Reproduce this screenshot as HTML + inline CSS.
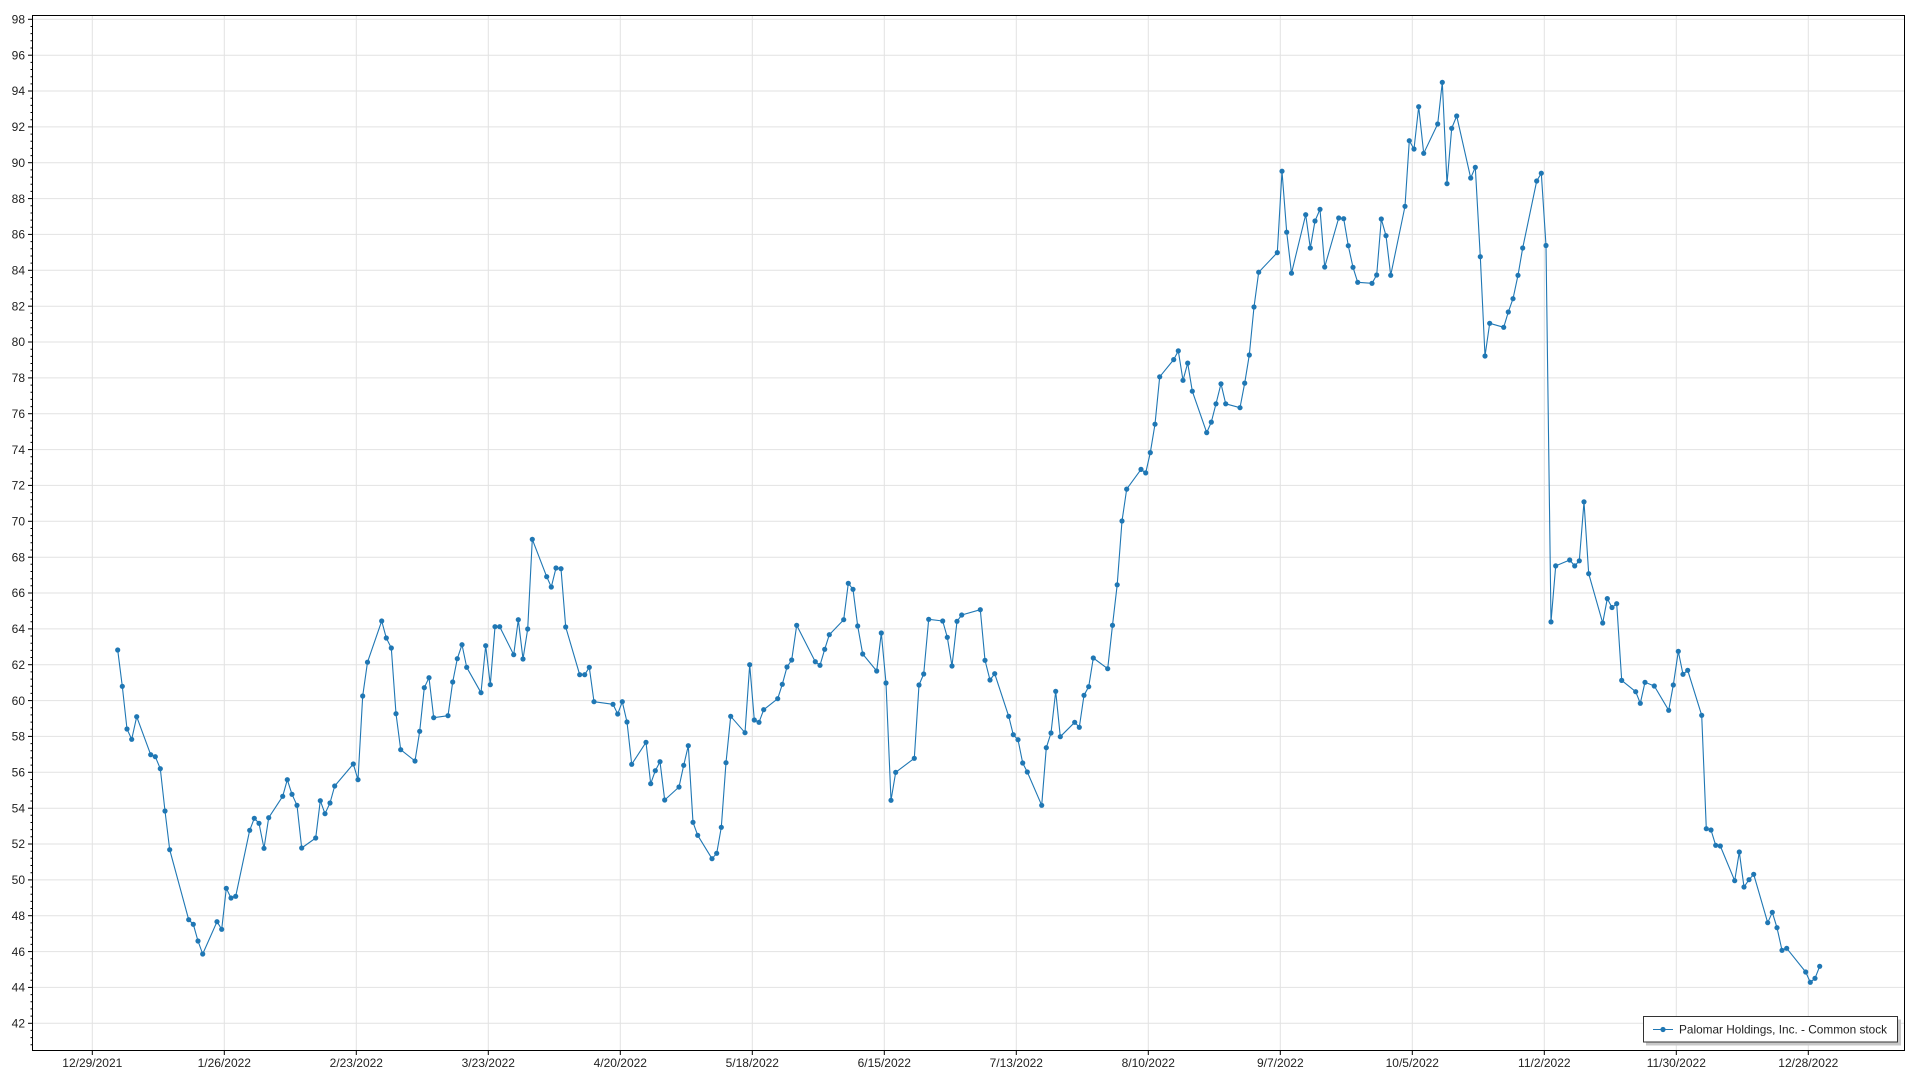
<!DOCTYPE html>
<html>
<head>
<meta charset="utf-8">
<style>
  html,body{margin:0;padding:0;background:#fff;}
  svg{display:block;}
  text{font-family:"Liberation Sans",Arial,sans-serif;font-size:12px;fill:#222;}
</style>
</head>
<body>
<svg width="1920" height="1080" viewBox="0 0 1920 1080" xmlns="http://www.w3.org/2000/svg">
  <defs>
    <marker id="dot" markerWidth="7" markerHeight="7" refX="3.5" refY="3.5" markerUnits="userSpaceOnUse">
      <circle cx="3.5" cy="3.5" r="2.6" fill="#1f77b4"/>
    </marker>
  </defs>
  <rect x="0" y="0" width="1920" height="1080" fill="#fff"/>

  <!-- horizontal gridlines -->
  <g stroke="#e2e2e2" stroke-width="1">
    <line x1="33" x2="1905" y1="19.3" y2="19.3"/>
    <line x1="33" x2="1905" y1="55.2" y2="55.2"/>
    <line x1="33" x2="1905" y1="91.0" y2="91.0"/>
    <line x1="33" x2="1905" y1="126.9" y2="126.9"/>
    <line x1="33" x2="1905" y1="162.7" y2="162.7"/>
    <line x1="33" x2="1905" y1="198.6" y2="198.6"/>
    <line x1="33" x2="1905" y1="234.4" y2="234.4"/>
    <line x1="33" x2="1905" y1="270.3" y2="270.3"/>
    <line x1="33" x2="1905" y1="306.2" y2="306.2"/>
    <line x1="33" x2="1905" y1="342.0" y2="342.0"/>
    <line x1="33" x2="1905" y1="377.9" y2="377.9"/>
    <line x1="33" x2="1905" y1="413.7" y2="413.7"/>
    <line x1="33" x2="1905" y1="449.6" y2="449.6"/>
    <line x1="33" x2="1905" y1="485.4" y2="485.4"/>
    <line x1="33" x2="1905" y1="521.3" y2="521.3"/>
    <line x1="33" x2="1905" y1="557.2" y2="557.2"/>
    <line x1="33" x2="1905" y1="593.0" y2="593.0"/>
    <line x1="33" x2="1905" y1="628.9" y2="628.9"/>
    <line x1="33" x2="1905" y1="664.7" y2="664.7"/>
    <line x1="33" x2="1905" y1="700.6" y2="700.6"/>
    <line x1="33" x2="1905" y1="736.4" y2="736.4"/>
    <line x1="33" x2="1905" y1="772.3" y2="772.3"/>
    <line x1="33" x2="1905" y1="808.2" y2="808.2"/>
    <line x1="33" x2="1905" y1="844.0" y2="844.0"/>
    <line x1="33" x2="1905" y1="879.9" y2="879.9"/>
    <line x1="33" x2="1905" y1="915.7" y2="915.7"/>
    <line x1="33" x2="1905" y1="951.6" y2="951.6"/>
    <line x1="33" x2="1905" y1="987.4" y2="987.4"/>
    <line x1="33" x2="1905" y1="1023.3" y2="1023.3"/>
  </g>
  <!-- vertical gridlines -->
  <g stroke="#e2e2e2" stroke-width="1">
    <line y1="16" y2="1050" x1="92.3" x2="92.3"/>
    <line y1="16" y2="1050" x1="224.3" x2="224.3"/>
    <line y1="16" y2="1050" x1="356.3" x2="356.3"/>
    <line y1="16" y2="1050" x1="488.3" x2="488.3"/>
    <line y1="16" y2="1050" x1="620.3" x2="620.3"/>
    <line y1="16" y2="1050" x1="752.3" x2="752.3"/>
    <line y1="16" y2="1050" x1="884.3" x2="884.3"/>
    <line y1="16" y2="1050" x1="1016.3" x2="1016.3"/>
    <line y1="16" y2="1050" x1="1148.3" x2="1148.3"/>
    <line y1="16" y2="1050" x1="1280.3" x2="1280.3"/>
    <line y1="16" y2="1050" x1="1412.3" x2="1412.3"/>
    <line y1="16" y2="1050" x1="1544.3" x2="1544.3"/>
    <line y1="16" y2="1050" x1="1676.3" x2="1676.3"/>
    <line y1="16" y2="1050" x1="1808.3" x2="1808.3"/>
  </g>

  <!-- plot frame -->
  <rect x="32.5" y="15.5" width="1872" height="1035" fill="none" stroke="#000" stroke-width="1"/>

  <!-- y major ticks -->
  <g stroke="#000" stroke-width="1">
    <line x1="28" x2="32.5" y1="19.3" y2="19.3"/>
    <line x1="28" x2="32.5" y1="55.2" y2="55.2"/>
    <line x1="28" x2="32.5" y1="91.0" y2="91.0"/>
    <line x1="28" x2="32.5" y1="126.9" y2="126.9"/>
    <line x1="28" x2="32.5" y1="162.7" y2="162.7"/>
    <line x1="28" x2="32.5" y1="198.6" y2="198.6"/>
    <line x1="28" x2="32.5" y1="234.4" y2="234.4"/>
    <line x1="28" x2="32.5" y1="270.3" y2="270.3"/>
    <line x1="28" x2="32.5" y1="306.2" y2="306.2"/>
    <line x1="28" x2="32.5" y1="342.0" y2="342.0"/>
    <line x1="28" x2="32.5" y1="377.9" y2="377.9"/>
    <line x1="28" x2="32.5" y1="413.7" y2="413.7"/>
    <line x1="28" x2="32.5" y1="449.6" y2="449.6"/>
    <line x1="28" x2="32.5" y1="485.4" y2="485.4"/>
    <line x1="28" x2="32.5" y1="521.3" y2="521.3"/>
    <line x1="28" x2="32.5" y1="557.2" y2="557.2"/>
    <line x1="28" x2="32.5" y1="593.0" y2="593.0"/>
    <line x1="28" x2="32.5" y1="628.9" y2="628.9"/>
    <line x1="28" x2="32.5" y1="664.7" y2="664.7"/>
    <line x1="28" x2="32.5" y1="700.6" y2="700.6"/>
    <line x1="28" x2="32.5" y1="736.4" y2="736.4"/>
    <line x1="28" x2="32.5" y1="772.3" y2="772.3"/>
    <line x1="28" x2="32.5" y1="808.2" y2="808.2"/>
    <line x1="28" x2="32.5" y1="844.0" y2="844.0"/>
    <line x1="28" x2="32.5" y1="879.9" y2="879.9"/>
    <line x1="28" x2="32.5" y1="915.7" y2="915.7"/>
    <line x1="28" x2="32.5" y1="951.6" y2="951.6"/>
    <line x1="28" x2="32.5" y1="987.4" y2="987.4"/>
    <line x1="28" x2="32.5" y1="1023.3" y2="1023.3"/>
  </g>
  <!-- y minor ticks (every 0.4 units = 7.17px) -->
  <path stroke="#000" stroke-width="1" fill="none" d="
    M30.5 26.5H32.5 M30.5 33.6H32.5 M30.5 40.8H32.5 M30.5 48.0H32.5
    M30.5 62.4H32.5 M30.5 69.5H32.5 M30.5 76.7H32.5 M30.5 83.9H32.5
    M30.5 98.2H32.5 M30.5 105.4H32.5 M30.5 112.5H32.5 M30.5 119.7H32.5
    M30.5 134.1H32.5 M30.5 141.2H32.5 M30.5 148.4H32.5 M30.5 155.6H32.5
    M30.5 169.9H32.5 M30.5 177.1H32.5 M30.5 184.3H32.5 M30.5 191.4H32.5
    M30.5 205.8H32.5 M30.5 213.0H32.5 M30.5 220.1H32.5 M30.5 227.3H32.5
    M30.5 241.6H32.5 M30.5 248.8H32.5 M30.5 256.0H32.5 M30.5 263.1H32.5
    M30.5 277.5H32.5 M30.5 284.7H32.5 M30.5 291.8H32.5 M30.5 299.0H32.5
    M30.5 313.3H32.5 M30.5 320.5H32.5 M30.5 327.7H32.5 M30.5 334.8H32.5
    M30.5 349.2H32.5 M30.5 356.4H32.5 M30.5 363.5H32.5 M30.5 370.7H32.5
    M30.5 385.1H32.5 M30.5 392.2H32.5 M30.5 399.4H32.5 M30.5 406.6H32.5
    M30.5 420.9H32.5 M30.5 428.1H32.5 M30.5 435.2H32.5 M30.5 442.4H32.5
    M30.5 456.8H32.5 M30.5 463.9H32.5 M30.5 471.1H32.5 M30.5 478.3H32.5
    M30.5 492.6H32.5 M30.5 499.8H32.5 M30.5 506.9H32.5 M30.5 514.1H32.5
    M30.5 528.5H32.5 M30.5 535.6H32.5 M30.5 542.8H32.5 M30.5 550.0H32.5
    M30.5 564.3H32.5 M30.5 571.5H32.5 M30.5 578.7H32.5 M30.5 585.8H32.5
    M30.5 600.2H32.5 M30.5 607.4H32.5 M30.5 614.5H32.5 M30.5 621.7H32.5
    M30.5 636.0H32.5 M30.5 643.2H32.5 M30.5 650.4H32.5 M30.5 657.5H32.5
    M30.5 671.9H32.5 M30.5 679.1H32.5 M30.5 686.2H32.5 M30.5 693.4H32.5
    M30.5 707.8H32.5 M30.5 714.9H32.5 M30.5 722.1H32.5 M30.5 729.2H32.5
    M30.5 743.6H32.5 M30.5 750.8H32.5 M30.5 757.9H32.5 M30.5 765.1H32.5
    M30.5 779.5H32.5 M30.5 786.6H32.5 M30.5 793.8H32.5 M30.5 801.0H32.5
    M30.5 815.3H32.5 M30.5 822.5H32.5 M30.5 829.6H32.5 M30.5 836.8H32.5
    M30.5 851.2H32.5 M30.5 858.3H32.5 M30.5 865.5H32.5 M30.5 872.7H32.5
    M30.5 887.0H32.5 M30.5 894.2H32.5 M30.5 901.4H32.5 M30.5 908.5H32.5
    M30.5 922.9H32.5 M30.5 930.0H32.5 M30.5 937.2H32.5 M30.5 944.4H32.5
    M30.5 958.7H32.5 M30.5 965.9H32.5 M30.5 973.1H32.5 M30.5 980.2H32.5
    M30.5 994.6H32.5 M30.5 1001.8H32.5 M30.5 1008.9H32.5 M30.5 1016.1H32.5
    M30.5 1030.4H32.5 M30.5 1037.6H32.5 M30.5 1044.8H32.5"/>

  <!-- x major ticks -->
  <g stroke="#000" stroke-width="1">
    <line y1="1050.5" y2="1055" x1="92.3" x2="92.3"/>
    <line y1="1050.5" y2="1055" x1="224.3" x2="224.3"/>
    <line y1="1050.5" y2="1055" x1="356.3" x2="356.3"/>
    <line y1="1050.5" y2="1055" x1="488.3" x2="488.3"/>
    <line y1="1050.5" y2="1055" x1="620.3" x2="620.3"/>
    <line y1="1050.5" y2="1055" x1="752.3" x2="752.3"/>
    <line y1="1050.5" y2="1055" x1="884.3" x2="884.3"/>
    <line y1="1050.5" y2="1055" x1="1016.3" x2="1016.3"/>
    <line y1="1050.5" y2="1055" x1="1148.3" x2="1148.3"/>
    <line y1="1050.5" y2="1055" x1="1280.3" x2="1280.3"/>
    <line y1="1050.5" y2="1055" x1="1412.3" x2="1412.3"/>
    <line y1="1050.5" y2="1055" x1="1544.3" x2="1544.3"/>
    <line y1="1050.5" y2="1055" x1="1676.3" x2="1676.3"/>
    <line y1="1050.5" y2="1055" x1="1808.3" x2="1808.3"/>
  </g>

  <!-- y labels -->
  <g text-anchor="end">
    <text x="25" y="23.5">98</text>
    <text x="25" y="59.4">96</text>
    <text x="25" y="95.2">94</text>
    <text x="25" y="131.1">92</text>
    <text x="25" y="166.9">90</text>
    <text x="25" y="202.8">88</text>
    <text x="25" y="238.6">86</text>
    <text x="25" y="274.5">84</text>
    <text x="25" y="310.4">82</text>
    <text x="25" y="346.2">80</text>
    <text x="25" y="382.1">78</text>
    <text x="25" y="417.9">76</text>
    <text x="25" y="453.8">74</text>
    <text x="25" y="489.6">72</text>
    <text x="25" y="525.5">70</text>
    <text x="25" y="561.4">68</text>
    <text x="25" y="597.2">66</text>
    <text x="25" y="633.1">64</text>
    <text x="25" y="668.9">62</text>
    <text x="25" y="704.8">60</text>
    <text x="25" y="740.6">58</text>
    <text x="25" y="776.5">56</text>
    <text x="25" y="812.4">54</text>
    <text x="25" y="848.2">52</text>
    <text x="25" y="884.1">50</text>
    <text x="25" y="919.9">48</text>
    <text x="25" y="955.8">46</text>
    <text x="25" y="991.6">44</text>
    <text x="25" y="1027.5">42</text>
  </g>

  <!-- x labels -->
  <g text-anchor="middle">
    <text x="92.3" y="1067">12/29/2021</text>
    <text x="224.3" y="1067">1/26/2022</text>
    <text x="356.3" y="1067">2/23/2022</text>
    <text x="488.3" y="1067">3/23/2022</text>
    <text x="620.3" y="1067">4/20/2022</text>
    <text x="752.3" y="1067">5/18/2022</text>
    <text x="884.3" y="1067">6/15/2022</text>
    <text x="1016.3" y="1067">7/13/2022</text>
    <text x="1148.3" y="1067">8/10/2022</text>
    <text x="1280.3" y="1067">9/7/2022</text>
    <text x="1412.3" y="1067">10/5/2022</text>
    <text x="1544.3" y="1067">11/2/2022</text>
    <text x="1676.3" y="1067">11/30/2022</text>
    <text x="1808.3" y="1067">12/28/2022</text>
  </g>

  <!-- data series -->
  <polyline fill="none" stroke="#1f77b4" stroke-width="1.1" stroke-linejoin="round"
    marker-start="url(#dot)" marker-mid="url(#dot)" marker-end="url(#dot)"
    points="
117.7,650 122.3,686.3 127,729 131.7,739.3 136.7,716.7 150.7,754.7 155.3,756.7 160.3,768.7 165,811 169.7,849.7
188.7,919.7 193.3,924.3 198,941 202.7,954 217,921.7 221.7,929.3 226.3,888.3 231,898 235.7,896.3 249.7,830.3
254.3,818.3 259,823.3 264,848.3 268.7,817.7 282.7,796.3 287.3,779.7 292,794.3 297,805.3 301.7,848 315.7,838
320.3,800.7 325,813.7 330,803 334.7,786 353.3,764 358,779.7 362.7,696 367.5,662.2
381.7,621 386.3,638 391.3,648 396,713.7 400.7,749.7 415,761 419.7,731.3 424.3,687.7 429,677.7 433.7,717.7
448,715.7 452.7,682 457.3,658.7 462,644.7 466.7,667.3 481,692.7 485.7,645.7 490.3,684.7 495,626.7 499.7,626.7
513.7,654.7 518.3,619.7 523,659 527.7,629 532.3,539.3 546.7,576.7 551.3,587 556,568 561,568.7 565.7,627
579.7,674.7 584.7,674.7 589.3,667.3 594,701.7 613,704.3 617.7,714 622.3,701.7 627,722
631.7,764.3 646,742.3 650.7,783.7 655.3,770.7 660,761.7 664.7,800 679,787 683.7,765.3 688.3,745.7 693,822.3
697.7,835.3 712,858.7 716.7,853.3 721.3,827.3 726,762.7 730.7,716.3 745,732.7 749.7,664.7 754.3,720 759,722.3
763.7,709.7 777.7,698.7 782.3,684.3 787,667 791.7,660 796.7,625.3 815.3,661.7 820,665.3 824.7,649.3 829.3,634.7
843.7,619.7 848.3,583.3 853,589.3 857.7,626 862.7,654 876.7,671 881.3,633
886,683 891,800.3 895.7,772.3 914.3,758.3 919,685 923.7,674 928.7,619.3 942.7,621 947.3,637.3 952,666
957,621.3 961.7,615 980.3,609.7 985,660.3 990,680 994.7,673.7 1008.7,716.3 1013.3,734.7 1018,739.7 1022.7,763
1027.3,772 1041.7,805.3 1046.3,747.7 1051,733 1055.7,691.3 1060.3,736.7 1074.7,722.3 1079.3,727.3 1084,695.3 1088.7,686.7
1093.3,658 1107.7,668.7 1112.5,625.3 1117.2,584.8
1122,521 1126.7,489.1 1141,469.4 1145.7,472.9 1150.3,452.6 1155,424.2 1159.7,376.8 1173.7,359.6 1178.3,350.9 1183,380.3
1187.7,363.1 1192.3,391.2 1206.7,432.6 1211.3,422.1 1216,403.8 1221,383.8 1225.7,403.8 1240,407.7 1244.7,383.1 1249.3,355
1254,307 1258.7,272.2 1277.3,252.6 1282,171.2 1286.7,232.2 1291.5,273.2
1305.7,214.7 1310.3,248 1315,221 1320,209.3 1324.7,267 1338.7,218 1343.7,218.7 1348.3,245.7 1353,267.3 1357.7,282.3
1372,283.3 1376.7,275 1381.3,219 1386,235.7 1390.7,275.3 1405,206.3 1409.3,140.7 1414,149 1418.7,106.7 1423.7,153.3
1437.7,124 1442.3,82.3 1447,183.7 1451.7,128.3 1456.7,116 1470.7,178 1475.3,167.3 1480.3,256.7 1485,356 1489.7,323.3
1503.7,327.3 1508.3,312 1513,298.7 1518,275.3 1522.7,248
1536.7,181 1541.3,173.2 1546,245.5 1551,621.9 1555.7,565.9 1569.7,560 1574.7,565.9 1579.3,560.8 1584,501.8 1588.7,573.7
1602.7,623 1607.3,598.6 1612,607.5 1616.7,603.7 1621.7,680.4
1635.7,691.7 1640.3,703.3 1645,682.3 1654.3,686 1668.7,710.3 1673.3,685 1678.3,651.3 1683,674.3 1687.7,670.3 1701.7,715.3
1706.3,828.7 1711,830 1715.7,845.3 1720.3,846 1734.7,880.7 1739.3,852 1744,887 1749,879.7 1753.7,874.3 1767.7,922.7
1772.3,912.3 1777,927.7 1782,950.3 1786.7,948.3 1805.7,972 1810.3,982.3 1815,978.3 1819.7,966.3"/>

  <!-- legend -->
  <rect x="1646" y="1019.5" width="255" height="26" fill="#c8c8c8"/>
  <rect x="1643.5" y="1016.5" width="254" height="25.5" fill="#fff" stroke="#333" stroke-width="1"/>
  <line x1="1653" x2="1673" y1="1029.5" y2="1029.5" stroke="#1f77b4" stroke-width="1.1"/>
  <circle cx="1663" cy="1029.5" r="2.6" fill="#1f77b4"/>
  <text x="1679" y="1033.5" textLength="208" lengthAdjust="spacingAndGlyphs">Palomar Holdings, Inc. - Common stock</text>
</svg>
</body>
</html>
